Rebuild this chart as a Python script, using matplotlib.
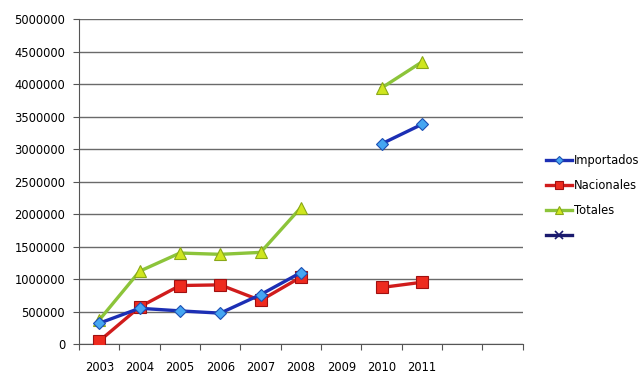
import numpy as np
import matplotlib
matplotlib.use('Agg')
import matplotlib.pyplot as plt

# categorias del eje x (las dos ultimas vacias)
years = ['2003', '2004', '2005', '2006', '2007', '2008', '2009', '2010', '2011', '', '']

nan = np.nan
importados = [320000, 550000, 510000, 475000, 760000, 1100000, nan, 3080000, 3380000, nan, nan]
nacionales = [45000, 570000, 900000, 910000, 670000, 1030000, nan, 870000, 950000, nan, nan]
totales = [370000, 1120000, 1400000, 1380000, 1410000, 2100000, nan, 3940000, 4340000, nan, nan]

fig = plt.figure(figsize=(6.43, 3.92), dpi=100)
ax = fig.add_axes([0.123, 0.1224, 0.69, 0.829])

x = np.arange(len(years))

ax.plot(x, importados, color='#1c2fb4', lw=2.4, marker='D', ms=6.5,
        mfc='#45a6f2', mec='#1c4fb4', mew=0.8, label='Importados', zorder=4)
ax.plot(x, nacionales, color='#d01c1c', lw=2.4, marker='s', ms=8.5,
        mfc='#ee2a1e', mec='#a01010', mew=0.8, label='Nacionales', zorder=3)
ax.plot(x, totales, color='#8cc43a', lw=2.4, marker='^', ms=9,
        mfc='#cfe61e', mec='#8aa818', mew=0.8, label='Totales', zorder=2)
ax.plot([], [], color='#1a1a6e', lw=2.4, marker='x', ms=9, mew=1.2, label=' ')

ax.set_ylim(0, 5000000)
ax.set_xlim(-0.5, len(years) - 0.5)
ax.set_yticks(np.arange(0, 5000001, 500000))
ax.set_yticklabels([str(v) for v in range(0, 5000001, 500000)], fontsize=8.3)
ax.yaxis.grid(True, color='#6a6a6a', lw=1)
ax.set_axisbelow(True)

ax.set_xticks(np.arange(-0.5, len(years), 1.0))
ax.set_xticklabels([])
ax.set_xticks(x, minor=True)
ax.set_xticklabels(years, minor=True, fontsize=8.3)
ax.tick_params(axis='x', which='major', length=4, direction='out', color='#555555')
ax.tick_params(axis='x', which='minor', length=0, pad=12)
ax.tick_params(axis='y', length=4, color='#555555', pad=6)

for s in ['top', 'right']:
    ax.spines[s].set_visible(False)
ax.spines['left'].set_color('#555555')
ax.spines['bottom'].set_color('#555555')

ax.legend(loc='center left', bbox_to_anchor=(1.03, 0.45), frameon=False,
          fontsize=8.3, handlelength=2.2, handletextpad=0.15, labelspacing=1.05,
          markerscale=0.6)

fig.savefig('out.png', dpi=100)
